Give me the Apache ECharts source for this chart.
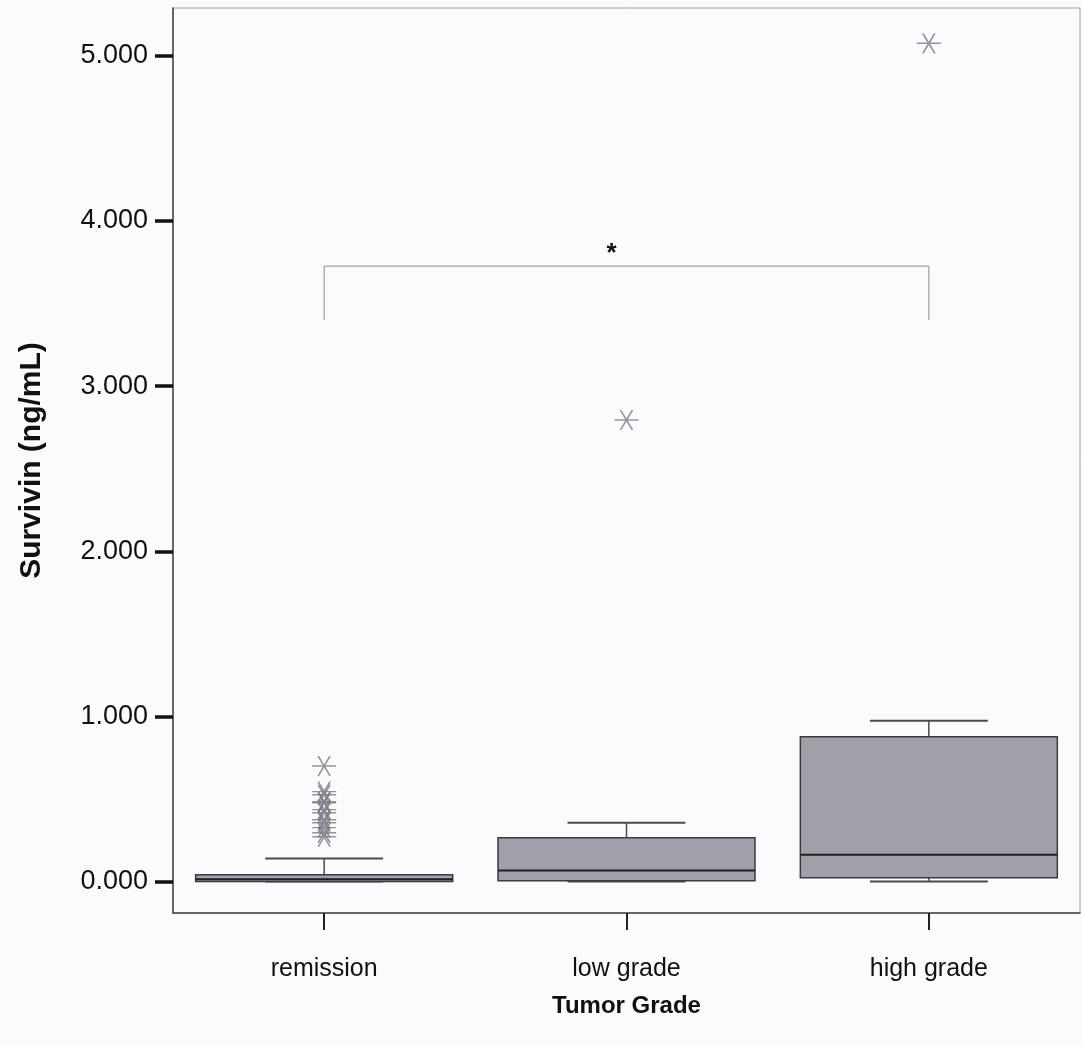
<!DOCTYPE html>
<html>
<head>
<meta charset="utf-8">
<script src="https://cdn.jsdelivr.net/npm/echarts@6/dist/echarts.min.js"></script>
<style>
  html, body { margin: 0; padding: 0; background: #fbfbfd; }
  #chart { width: 1082px; height: 1045px; }
</style>
</head>
<body>
<div id="chart"></div>
<script>
// values
var categories = ['remission', 'low grade', 'high grade'];
var boxMin = [0, 0, 0];
var boxQ1 = [0, 0.006, 0.024];
var boxMedian = [0.015, 0.067, 0.163];
var boxQ3 = [0.042, 0.266, 0.877];
var boxMax = [0.14, 0.357, 0.974];

var remissionOutliers = [0.70, 0.545, 0.526, 0.484, 0.478, 0.436, 0.417, 0.375, 0.357, 0.327, 0.296, 0.272];
var lowGradeOutliers = [2.795];
var highGradeOutliers = [5.076];

var yTicks = [0, 1, 2, 3, 4, 5];
var bracketLegBottom = 3.40;
var bracketTop = 3.727;

var boxData = categories.map(function (c, i) {
    return [i, boxMin[i], boxQ1[i], boxMedian[i], boxQ3[i], boxMax[i]];
});

var outlierData = [];
remissionOutliers.forEach(function (v) { outlierData.push([0, v]); });
lowGradeOutliers.forEach(function (v) { outlierData.push([1, v]); });
highGradeOutliers.forEach(function (v) { outlierData.push([2, v]); });

var bracketData = [[0, bracketLegBottom], [0, bracketTop], [2, bracketTop], [2, bracketLegBottom]];

var starPath = 'path://M0,10 L20,10 M5,1.34 L15,18.66 M15,1.34 L5,18.66';

function renderBox(params, api) {
    var i = api.value(0);
    var band = api.size([1, 0])[0];
    var bw = band * 0.85;
    var cw = band * 0.39;
    var x = api.coord([i, 0])[0];
    var yMin = api.coord([i, api.value(1)])[1];
    var yQ1 = api.coord([i, api.value(2)])[1];
    var yMed = api.coord([i, api.value(3)])[1];
    var yQ3 = api.coord([i, api.value(4)])[1];
    var yMax = api.coord([i, api.value(5)])[1];
    var wStyle = { stroke: '#4a4a50', lineWidth: 1.5 };
    return {
        type: 'group',
        children: [
            { type: 'line', shape: { x1: x, y1: yQ3, x2: x, y2: yMax }, style: wStyle },
            { type: 'line', shape: { x1: x, y1: yQ1, x2: x, y2: yMin }, style: wStyle },
            { type: 'line', shape: { x1: x - cw / 2, y1: yMax, x2: x + cw / 2, y2: yMax }, style: { stroke: '#4a4a50', lineWidth: 2 } },
            { type: 'line', shape: { x1: x - cw / 2, y1: yMin, x2: x + cw / 2, y2: yMin }, style: { stroke: '#4a4a50', lineWidth: 2 } },
            {
                type: 'rect',
                shape: { x: x - bw / 2, y: yQ3, width: bw, height: Math.max(yQ1 - yQ3, 1) },
                style: { fill: '#9fa0a8', stroke: '#3a3a40', lineWidth: 1.5 }
            },
            { type: 'line', shape: { x1: x - bw / 2, y1: yMed, x2: x + bw / 2, y2: yMed }, style: { stroke: '#1e1e24', lineWidth: 2 } }
        ]
    };
}

var chart = echarts.init(document.getElementById('chart'));
var option = {
    backgroundColor: '#fbfbfd',
    animation: false,
    grid: {
        left: 173,
        right: 2,
        top: 8,
        bottom: 132,
        show: true,
        borderColor: '#a0a0a6',
        borderWidth: 1,
        backgroundColor: 'transparent'
    },
    xAxis: {
        type: 'category',
        data: categories,
        boundaryGap: true,
        name: 'Tumor Grade',
        nameLocation: 'middle',
        nameGap: 81,
        nameTextStyle: { fontFamily: 'Liberation Sans', fontSize: 24, fontWeight: 'bold', color: '#111' },
        axisLine: { show: true, onZero: false, lineStyle: { color: '#444', width: 1.5 } },
        axisTick: { show: true, alignWithLabel: true, interval: 0, length: 17, lineStyle: { color: '#222', width: 2 } },
        axisLabel: { margin: 44, fontFamily: 'Liberation Sans', fontSize: 25, color: '#111' }
    },
    yAxis: {
        type: 'value',
        min: -0.19,
        max: 5.29,
        name: 'Survivin (ng/mL)',
        nameLocation: 'middle',
        nameGap: 126,
        nameTextStyle: { fontFamily: 'Liberation Sans', fontSize: 30, fontWeight: 'bold', color: '#111' },
        splitLine: { show: false },
        axisLine: { show: true, onZero: false, lineStyle: { color: '#444', width: 1.5 } },
        axisTick: { show: true, customValues: yTicks, length: 18, lineStyle: { color: '#111', width: 3.5 } },
        axisLabel: {
            customValues: yTicks,
            margin: 25,
            fontFamily: 'Liberation Sans',
            fontSize: 27,
            color: '#111',
            formatter: function (v) { return v.toFixed(3); }
        }
    },
    series: [
        {
            type: 'line',
            data: bracketData,
            symbol: 'none',
            lineStyle: { color: '#8c8c92', width: 1 },
            silent: true,
            markPoint: {
                symbol: 'circle',
                symbolSize: 0,
                label: {
                    show: true,
                    position: 'inside',
                    offset: [-15, 0],
                    formatter: '*',
                    fontSize: 26,
                    fontWeight: 'bold',
                    fontFamily: 'Liberation Sans',
                    color: '#111'
                },
                data: [{ coord: [1, 3.80] }]
            }
        },
        {
            type: 'custom',
            renderItem: renderBox,
            encode: { x: 0, y: [1, 2, 3, 4, 5] },
            data: boxData
        },
        {
            type: 'scatter',
            data: outlierData,
            symbol: starPath,
            symbolSize: [24, 20],
            itemStyle: { color: 'transparent', borderColor: '#7a7a84', borderWidth: 1.6 }
        }
    ]
};
chart.setOption(option);
</script>
</body>
</html>
